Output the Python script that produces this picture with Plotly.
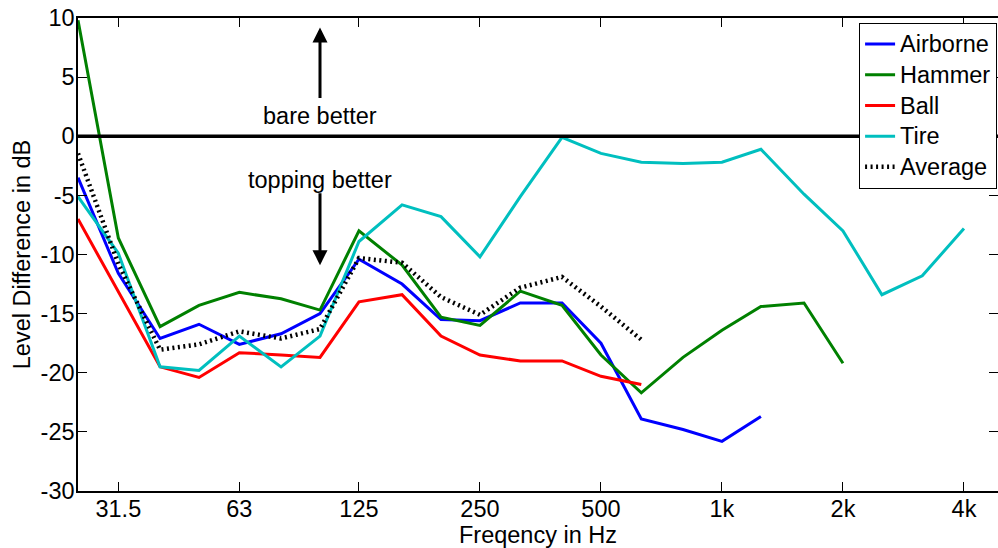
import plotly.graph_objects as go
import math

freqs = [25, 31.5, 40, 50, 63, 80, 100, 125, 160, 200, 250, 315, 400, 500, 630,
         800, 1000, 1250, 1600, 2000, 2500, 3150, 4000]

airborne = [-3.5, -11.6, -17.1, -15.9, -17.6, -16.7, -15.0, -10.4, -12.5, -15.5, -15.6,
            -14.1, -14.1, -17.5, -23.9, -24.8, -25.8, -23.7]
hammer = [9.8, -8.6, -16.1, -14.3, -13.2, -13.75, -14.7, -8.0, -10.9, -15.3, -16.0,
          -13.1, -14.3, -18.5, -21.7, -18.7, -16.4, -14.4, -14.1, -19.2]
ball = [-7.0, -13.1, -19.5, -20.4, -18.3, -18.5, -18.7, -14.0, -13.4, -16.9, -18.5,
        -19.0, -19.0, -20.3, -21.0]
tire = [-5.1, -9.9, -19.5, -19.8, -16.9, -19.5, -16.9, -8.9, -5.8, -6.8, -10.2,
        -5.1, -0.1, -1.45, -2.2, -2.3, -2.2, -1.1, -4.9, -8.0, -13.4, -11.8, -7.8]
average = [-1.45, -10.8, -18.05, -17.6, -16.5, -17.1, -16.3, -10.3, -10.7, -13.6,
           -15.1, -12.8, -11.9, -14.4, -17.2]

series_names = ["Airborne", "Hammer", "Ball", "Tire", "Average"]
series_values = [airborne, hammer, ball, tire, average]
series_colors = ["#0000FF", "#008000", "#FF0000", "#00BFBF", "#000000"]
series_dash = ["solid", "solid", "solid", "solid", "2px,3.5px"]
series_width = [3, 3, 3, 3, 4.5]

xtick_vals = [31.5, 63, 125, 250, 500, 1000, 2000, 4000]
xtick_text = ["31.5", "63", "125", "250", "500", "1k", "2k", "4k"]
ytick_vals = [-30, -25, -20, -15, -10, -5, 0, 5, 10]
ytick_text = ["-30", "-25", "-20", "-15", "-10", "-5", "0", "5", "10"]

arrow_freq = 100
up_arrow = (3.1, 9.2)
down_arrow = (-4.7, -10.9)
label_up = ("bare better", 1.7)
label_down = ("topping better", -3.7)

FONT = "Liberation Sans, Arial, Helvetica, sans-serif"
FS = 23.5
LEG_FS = 21.3  # controls legend row spacing

fig = go.Figure()
for name, vals, col, dash, w in zip(series_names, series_values, series_colors,
                                    series_dash, series_width):
    fig.add_trace(go.Scatter(
        x=freqs[:len(vals)], y=vals, mode="lines",
        name=f'<span style="font-size:{FS}px">{name}</span>',
        line=dict(color=col, width=w, dash=dash),
    ))

fig.add_shape(type="line", xref="paper", x0=0, x1=1, yref="y", y0=0, y1=0,
              line=dict(color="black", width=3.5), layer="above")

lx = math.log10(arrow_freq)
fig.add_annotation(x=lx, y=up_arrow[1], ax=lx, ay=up_arrow[0], xref="x", yref="y",
                   axref="x", ayref="y", showarrow=True, arrowhead=2, arrowsize=1,
                   arrowwidth=3, arrowcolor="black", text="")
fig.add_annotation(x=lx, y=down_arrow[1], ax=lx, ay=down_arrow[0], xref="x", yref="y",
                   axref="x", ayref="y", showarrow=True, arrowhead=2, arrowsize=1,
                   arrowwidth=3, arrowcolor="black", text="")
for txt, yy in (label_up, label_down):
    fig.add_annotation(x=lx, y=yy, xref="x", yref="y", text=txt, showarrow=False,
                       font=dict(family=FONT, size=FS, color="black"),
                       bgcolor="rgba(0,0,0,0)")

fig.update_xaxes(
    type="log", range=[math.log10(25), math.log10(4861)],
    tickvals=xtick_vals, ticktext=xtick_text,
    ticks="inside", ticklen=9, tickwidth=1, tickcolor="black",
    showline=True, linecolor="black", linewidth=1.5, mirror="ticks",
    showgrid=False, zeroline=False,
    tickfont=dict(family=FONT, size=FS, color="black"),
    title=dict(text="Freqency in Hz", font=dict(family=FONT, size=FS, color="black"),
               standoff=4),
    ticklabelstandoff=-4,
)
fig.update_yaxes(
    range=[-30, 10], tickvals=ytick_vals, ticktext=ytick_text,
    ticks="inside", ticklen=9, tickwidth=1, tickcolor="black",
    showline=True, linecolor="black", linewidth=1.5, mirror="ticks",
    showgrid=False, zeroline=False,
    tickfont=dict(family=FONT, size=FS, color="black"),
    title=dict(text="Level Difference in dB", font=dict(family=FONT, size=FS, color="black"),
               standoff=3),
    ticklabelstandoff=-3,
)

fig.update_layout(
    width=998, height=548,
    margin=dict(l=78, r=0, t=18, b=57, autoexpand=False),
    paper_bgcolor="white", plot_bgcolor="white",
    font=dict(family=FONT, size=FS, color="black"),
    showlegend=True,
    legend=dict(x=0.849, y=0.990, xanchor="left", yanchor="top",
                bgcolor="white", bordercolor="black", borderwidth=1,
                font=dict(family=FONT, size=LEG_FS, color="black"),
                tracegroupgap=0),
)

fig.write_html("out.html")
